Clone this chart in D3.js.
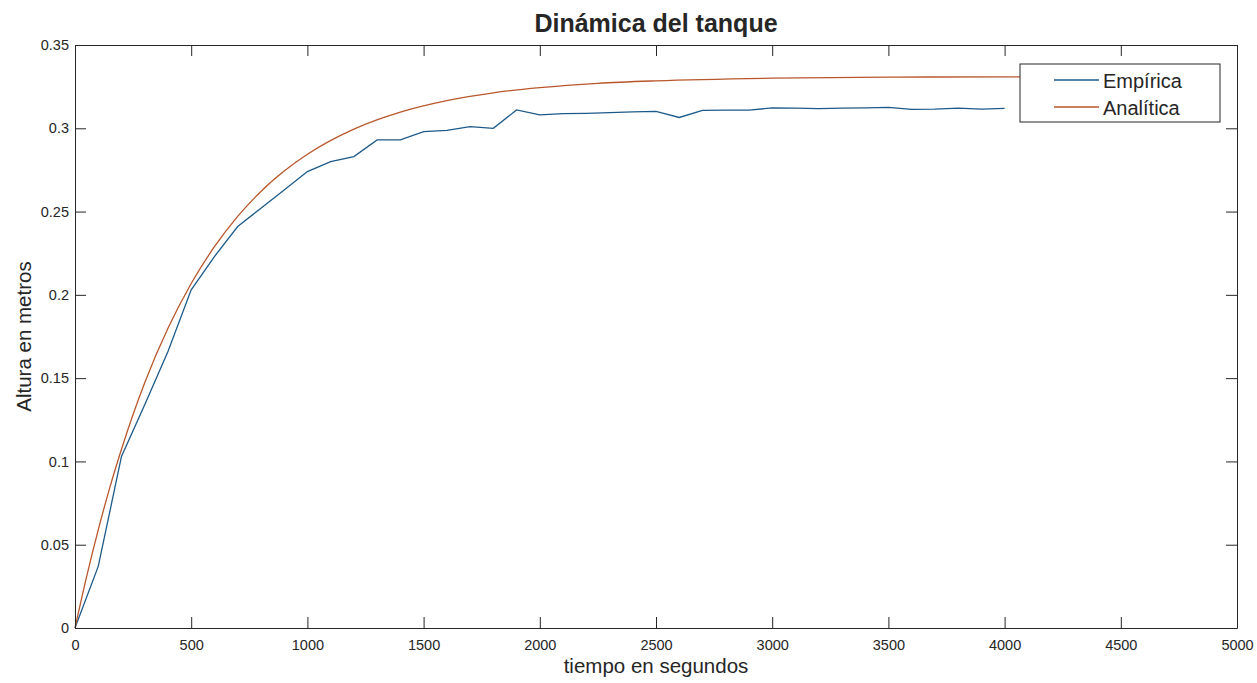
<!DOCTYPE html>
<html>
<head>
<meta charset="utf-8">
<script src="https://cdn.jsdelivr.net/npm/d3@7"></script>
<style>
  html, body { margin: 0; padding: 0; background: #ffffff; }
  svg { display: block; }
  text { font-family: "Liberation Sans", Arial, sans-serif; fill: #262626; }
</style>
</head>
<body>
<svg id="chart" width="1257" height="683"></svg>
<script>
// Measured tank level (every 100 s)
const tiempoEmpirico = [0, 100, 200, 300, 400, 500, 600, 700, 800, 900, 1000,
  1100, 1200, 1300, 1400, 1500, 1600, 1700, 1800, 1900, 2000,
  2100, 2200, 2300, 2400, 2500, 2600, 2700, 2800, 2900, 3000,
  3100, 3200, 3300, 3400, 3500, 3600, 3700, 3800, 3900, 4000];
const alturaEmpirica = [0, 0.037, 0.103, 0.134, 0.166, 0.203, 0.223, 0.241, 0.252, 0.263, 0.274,
  0.280, 0.283, 0.293, 0.293, 0.298, 0.2988, 0.301, 0.300, 0.311, 0.308,
  0.3088, 0.309, 0.3094, 0.3098, 0.3101, 0.3065, 0.3108, 0.3109, 0.3109, 0.3122,
  0.3121, 0.3118, 0.3121, 0.3123, 0.3126, 0.3113, 0.3115, 0.3121, 0.3115, 0.3119];

// Analytic model response, sampled along the curve
const tiempoAnalitico = [0, 50, 100, 150, 200, 300, 400, 500, 600, 700, 800, 900, 1000,
  1200, 1400, 1600, 1800, 2000, 2250, 2500, 3000, 3500, 4000, 4500];
const alturaAnalitica = [0, 0.0309, 0.0589, 0.0844, 0.1073, 0.1472, 0.1799, 0.2068, 0.2289, 0.2471, 0.2621, 0.2743, 0.2844,
  0.2995, 0.3097, 0.3166, 0.3213, 0.3244, 0.3270, 0.3285, 0.3301, 0.3307, 0.3309, 0.3310];

const xTicks = [0, 500, 1000, 1500, 2000, 2500, 3000, 3500, 4000, 4500, 5000];
const yTicks = [0, 0.05, 0.1, 0.15, 0.2, 0.25, 0.3, 0.35];

const series = [
  { name: "Empírica", t: tiempoEmpirico, h: alturaEmpirica, color: "#1d5a8a", curve: d3.curveLinear },
  { name: "Analítica", t: tiempoAnalitico, h: alturaAnalitica, color: "#b9572b", curve: d3.curveMonotoneX }
];

const svg = d3.select("#chart");
const plot = { left: 75, right: 1237, top: 45, bottom: 628 };

const x = d3.scaleLinear().domain([0, 5000]).range([plot.left, plot.right]);
const y = d3.scaleLinear().domain([0, 0.35]).range([plot.bottom, plot.top]);

const tickLen = 11;
const axisColor = "#262626";

// Data lines
const lines = svg.append("g");
series.forEach(s => {
  const pts = s.t.map((t, i) => [t, s.h[i]]);
  lines.append("path")
    .datum(pts)
    .attr("fill", "none")
    .attr("stroke", s.color)
    .attr("stroke-width", 1.3)
    .attr("d", d3.line().x(d => x(d[0])).y(d => y(d[1])).curve(s.curve));
});

// Axes: bottom/left with labels, top/right mirrored ticks (box)
const fmtY = d => d === 0 ? "0" : d3.format("~g")(d);

const gB = svg.append("g").attr("transform", `translate(0,${plot.bottom})`)
  .call(d3.axisBottom(x).tickValues(xTicks).tickSizeInner(-tickLen).tickSizeOuter(0).tickPadding(12).tickFormat(d3.format("d")));
const gT = svg.append("g").attr("transform", `translate(0,${plot.top})`)
  .call(d3.axisTop(x).tickValues(xTicks).tickSizeInner(-tickLen).tickSizeOuter(0).tickFormat(""));
const gL = svg.append("g").attr("transform", `translate(${plot.left},0)`)
  .call(d3.axisLeft(y).tickValues(yTicks).tickSizeInner(-tickLen).tickSizeOuter(0).tickPadding(6).tickFormat(fmtY));
const gR = svg.append("g").attr("transform", `translate(${plot.right},0)`)
  .call(d3.axisRight(y).tickValues(yTicks).tickSizeInner(-tickLen).tickSizeOuter(0).tickFormat(""));

[gB, gT, gL, gR].forEach(g => {
  g.select(".domain").attr("stroke", axisColor).attr("stroke-width", 1);
  g.selectAll(".tick line").attr("stroke", axisColor).attr("stroke-width", 1);
  g.selectAll(".tick text").attr("fill", axisColor)
    .style("font-family", '"Liberation Sans", Arial, sans-serif').style("font-size", "14.5px");
});

// Title and axis labels
svg.append("text")
  .attr("x", (plot.left + plot.right) / 2).attr("y", 32)
  .attr("text-anchor", "middle")
  .style("font-size", "25px").style("font-weight", "bold")
  .attr("fill", "#000")
  .text("Dinámica del tanque");

svg.append("text")
  .attr("x", (plot.left + plot.right) / 2).attr("y", 673)
  .attr("text-anchor", "middle")
  .style("font-size", "20.5px")
  .text("tiempo en segundos");

svg.append("text")
  .attr("transform", `translate(31,${(plot.top + plot.bottom) / 2}) rotate(-90)`)
  .attr("text-anchor", "middle")
  .style("font-size", "20.5px")
  .text("Altura en metros");

// Legend
const leg = svg.append("g").attr("transform", "translate(1020,64)");
leg.append("rect")
  .attr("width", 200).attr("height", 58)
  .attr("fill", "#fff").attr("stroke", "#262626").attr("stroke-width", 1);
series.forEach((s, i) => {
  const yy = 16 + i * 27;
  leg.append("line")
    .attr("x1", 34).attr("x2", 79).attr("y1", yy).attr("y2", yy)
    .attr("stroke", s.color).attr("stroke-width", 1.3);
  leg.append("text")
    .attr("x", 83).attr("y", yy + 7.5)
    .style("font-size", "20px")
    .attr("fill", "#000")
    .text(s.name);
});
</script>
</body>
</html>
